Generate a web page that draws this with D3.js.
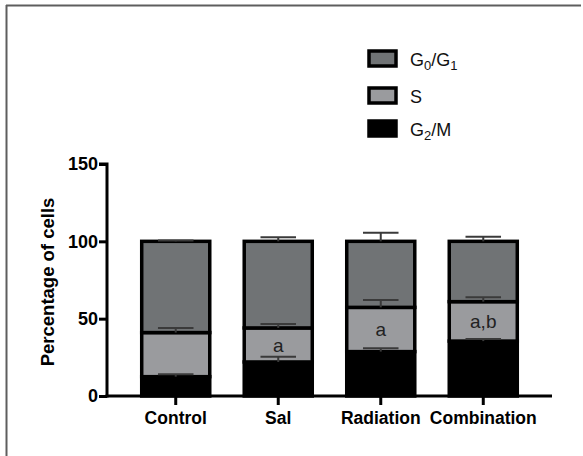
<!DOCTYPE html>
<html>
<head>
<meta charset="utf-8">
<script src="https://cdn.jsdelivr.net/npm/d3@7"></script>
<style>
  body { margin: 0; background: #fff; }
  svg text { font-family: "Liberation Sans", Arial, sans-serif; }
</style>
</head>
<body>
<div id="chart"></div>
<script>
// chart data
const groups = ["Control", "Sal", "Radiation", "Combination"];
const g2m = [12.5, 22, 28.7, 35.5];
const sPhase = [28.5, 22, 28.6, 25.5];
const g0g1 = [59, 56, 42.7, 39];
const g2mErr = [1.5, 3.4, 2.1, 1.3];
const sErr = [3, 2.5, 4.7, 2.8];
const g0g1Err = [0.5, 2.6, 5.6, 3];
const marks = ["", "a", "a", "a,b"];
const yTicks = [0, 50, 100, 150];

const width = 583, height = 456;
const svg = d3.select("#chart").append("svg")
    .attr("width", width)
    .attr("height", height);

// frame lines (top + left)
svg.append("line").attr("x1", 6).attr("x2", 581).attr("y1", 5.5).attr("y2", 5.5)
    .attr("stroke", "#5e5e5e").attr("stroke-width", 2);
svg.append("line").attr("x1", 6.5).attr("x2", 6.5).attr("y1", 5).attr("y2", height)
    .attr("stroke", "#5e5e5e").attr("stroke-width", 2);

// scales
const x = d3.scaleBand()
    .domain(groups)
    .range([107, 552])
    .paddingInner(0.307)
    .paddingOuter(0.324);

const y = d3.scaleLinear()
    .domain([0, 150])
    .range([396, 164]);

const colors = {g0: "#707375", s: "#9a9b9e", g2: "#000000"};

// stack the segments
const stackData = groups.map((g, i) => ({
    group: g,
    segs: [
        {key: "g2", y0: 0, y1: g2m[i], err: g2mErr[i]},
        {key: "s", y0: g2m[i], y1: g2m[i] + sPhase[i], err: sErr[i]},
        {key: "g0", y0: g2m[i] + sPhase[i], y1: g2m[i] + sPhase[i] + g0g1[i], err: g0g1Err[i]}
    ]
}));

const bars = svg.append("g").selectAll("g")
    .data(stackData)
    .join("g");

bars.selectAll("rect")
    .data(d => d.segs.map(s => ({...s, group: d.group})))
    .join("rect")
    .attr("x", d => x(d.group) + 1.5)
    .attr("width", x.bandwidth() - 3)
    .attr("y", d => y(d.y1))
    .attr("height", d => y(d.y0) - y(d.y1))
    .attr("fill", d => colors[d.key])
    .attr("stroke", "#000")
    .attr("stroke-width", 3.5);

// error bars (upper only)
bars.selectAll("g.err")
    .data(d => d.segs.map(s => ({...s, group: d.group})))
    .join("g")
    .attr("class", "err")
    .each(function(d) {
        const g = d3.select(this);
        const cx = x(d.group) + x.bandwidth() / 2;
        const half = x.bandwidth() / 4;
        g.append("line")
            .attr("x1", cx).attr("x2", cx)
            .attr("y1", y(d.y1)).attr("y2", y(d.y1 + d.err))
            .attr("stroke", "#3a3a3a").attr("stroke-width", 2);
        g.append("line")
            .attr("x1", cx - half).attr("x2", cx + half)
            .attr("y1", y(d.y1 + d.err)).attr("y2", y(d.y1 + d.err))
            .attr("stroke", "#3a3a3a").attr("stroke-width", 2);
    });

// significance letters in S segment
bars.append("text")
    .attr("x", d => x(d.group) + x.bandwidth() / 2)
    .attr("y", d => y((d.segs[1].y0 + d.segs[1].y1) / 2) + 7)
    .attr("text-anchor", "middle")
    .attr("font-size", 19)
    .attr("fill", "#222")
    .text((d, i) => marks[i]);

// axes
const yAxis = d3.axisLeft(y).tickValues(yTicks).tickSize(8).tickPadding(1);
const gy = svg.append("g")
    .attr("transform", "translate(107,0)")
    .call(yAxis);
gy.select(".domain").attr("stroke-width", 3).attr("d", "M-8,164H0V397.5");
gy.selectAll(".tick line").attr("stroke-width", 3);
gy.selectAll(".tick text")
    .attr("font-size", 18).attr("font-weight", "bold").attr("fill", "#000")
    .attr("font-family", "Liberation Sans, Arial, sans-serif");

const xAxis = d3.axisBottom(x).tickSize(9).tickPadding(7);
const gx = svg.append("g")
    .attr("transform", "translate(0,396)")
    .call(xAxis);
gx.select(".domain").attr("stroke-width", 3).attr("d", "M105.5,0H552");
gx.selectAll(".tick line").attr("stroke-width", 3);
gx.selectAll(".tick text")
    .attr("font-size", 17.5).attr("font-weight", "bold").attr("fill", "#000")
    .attr("font-family", "Liberation Sans, Arial, sans-serif");

// y title
svg.append("text")
    .attr("transform", "translate(54,282) rotate(-90)")
    .attr("text-anchor", "middle")
    .attr("font-size", 18.5)
    .attr("font-weight", "bold")
    .text("Percentage of cells");

// legend
const legend = [
    {key: "g0", y: 51, sub: ["G", "0", "/G", "1"]},
    {key: "s", y: 88, sub: ["S"]},
    {key: "g2", y: 121, sub: ["G", "2", "/M"]}
];
const lg = svg.append("g").selectAll("g")
    .data(legend)
    .join("g")
    .attr("transform", d => `translate(369,${d.y})`);
lg.append("rect")
    .attr("width", 27).attr("height", 15)
    .attr("fill", d => colors[d.key])
    .attr("stroke", "#000").attr("stroke-width", 3.5);
const lt = lg.append("text")
    .attr("x", 41).attr("y", 15)
    .attr("font-size", 18)
    .attr("fill", "#111");
lt.each(function(d) {
    const t = d3.select(this);
    d.sub.forEach((p, i) => {
        const isSub = (d.key !== "s") && (i % 2 === 1);
        t.append("tspan")
            .attr("font-size", isSub ? 13 : 18)
            .attr("dy", isSub ? 4 : (i > 0 ? -4 : 0))
            .text(p);
    });
});
</script>
</body>
</html>
